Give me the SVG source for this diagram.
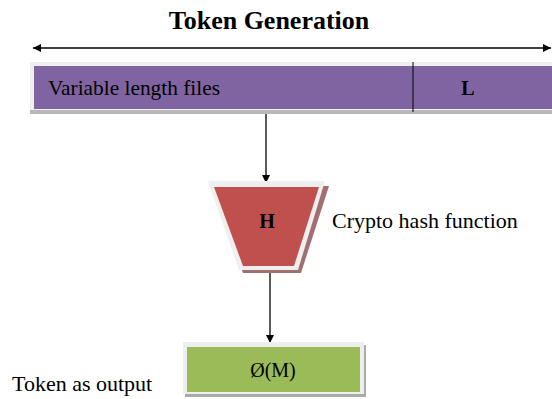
<svg xmlns="http://www.w3.org/2000/svg" width="552" height="399" viewBox="0 0 552 399">
<defs>
<style>
.t{font-family:"Liberation Serif","Times New Roman",serif;fill:#000}
.b{font-weight:bold}
.ln{stroke:#000;stroke-width:1.3;fill:none}
</style>
<marker id="ah" viewBox="0 0 10 10" refX="10" refY="5" markerWidth="8" markerHeight="8" markerUnits="userSpaceOnUse" orient="auto-start-reverse">
<path d="M0,0 L10,5 L0,10 z" fill="#000"/>
</marker>
</defs>
<rect width="552" height="399" fill="#fff"/>
<text class="t b" x="269" y="29" font-size="26" text-anchor="middle">Token Generation</text>
<g id="connectors">
<line class="ln" x1="33" y1="48" x2="551" y2="48" marker-start="url(#ah)" marker-end="url(#ah)"/>
<line class="ln" x1="266" y1="111" x2="266" y2="183" marker-end="url(#ah)"/>
<line class="ln" x1="270" y1="270" x2="270" y2="343" marker-end="url(#ah)"/>
</g>
<g id="files">
<rect x="30" y="62" width="530" height="52" fill="#eeeeee"/>
<rect x="30" y="110" width="530" height="4" fill="#b8b8b8"/>
<rect x="34" y="66" width="520" height="43" fill="#8064A2"/>
<line x1="413" y1="62" x2="413" y2="112" stroke="#000" stroke-width="1"/>
<text class="t" x="48" y="95" font-size="21" textLength="172" lengthAdjust="spacingAndGlyphs">Variable length files</text>
<text class="t b" x="468" y="95" font-size="20" text-anchor="middle">L</text>
</g>
<g id="hash">
<polygon points="212,186 329,186 301,273 243,273" fill="#a07070"/>
<polygon points="208,181 325,181 298,270 239,270" fill="#f0eeee"/>
<polygon points="214,187 319,187 294,266 243,266" fill="#C0504D"/>
<text class="t b" x="267" y="228" font-size="20" text-anchor="middle">H</text>
<text class="t" x="332" y="228" font-size="22">Crypto hash function</text>
</g>
<g id="output">
<rect x="185" y="345" width="181" height="52" fill="#aaaaaa"/>
<rect x="183" y="342" width="181" height="52" fill="#eeeeee"/>
<rect x="187" y="347" width="173" height="45" fill="#9BBB59"/>
<text class="t" x="273" y="377" font-size="20" text-anchor="middle">Ø(M)</text>
</g>
<text class="t" x="12" y="391" font-size="22">Token as output</text>
</svg>
